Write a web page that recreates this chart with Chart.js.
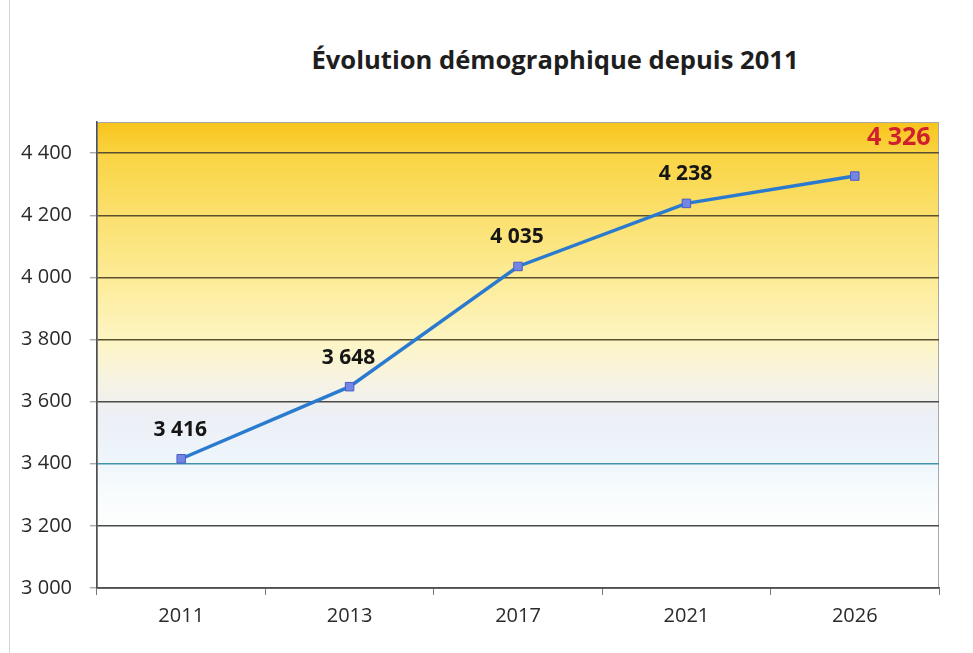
<!DOCTYPE html>
<html lang="fr">
<head>
<meta charset="utf-8">
<title>Évolution démographique depuis 2011</title>
<script src="https://cdn.jsdelivr.net/npm/chart.js@4/dist/chart.umd.min.js"></script>
<style>
  html, body { margin: 0; padding: 0; background: #fff; }
  #wrap { position: relative; width: 973px; height: 653px; overflow: hidden; }
  #edge { position: absolute; left: 9px; top: 0; width: 1px; height: 653px; background: #d4d4d4; }
  #titre {
    position: absolute; left: 255px; width: 600px; top: 42px; text-align: center;
    font-family: "Open Sans", sans-serif; font-weight: bold; font-size: 25.6px; color: #1e1e1e;
  }
  canvas { position: absolute; left: 0; top: 0; }
</style>
</head>
<body>
<div id="wrap">
  <div id="edge"></div>
  <div id="titre">Évolution démographique depuis 2011</div>
  <canvas id="popChart" width="973" height="653"></canvas>
</div>
<script>
// --- Données ---
const annees = ['2011', '2013', '2017', '2021', '2026'];
const population = [3416, 3648, 4035, 4238, 4326];
const yTicks = [3000, 3200, 3400, 3600, 3800, 4000, 4200, 4400];
const Y_MIN = 3000;
const Y_MAX = 4500;

// format "4 400"
function fmt(v) {
    return String(v).replace(/\B(?=(\d{3})+(?!\d))/g, ' ');
}

// fond dégradé de la zone de tracé + cadre
const fondPlugin = {
    id: 'fond',
    beforeDraw(chart) {
        const { ctx, chartArea: a } = chart;
        const g = ctx.createLinearGradient(0, a.top, 0, a.bottom);
        g.addColorStop(0.00, '#f8c41c');
        g.addColorStop(0.07, '#fad443');
        g.addColorStop(0.20, '#fbe06e');
        g.addColorStop(0.34, '#fdec98');
        g.addColorStop(0.47, '#fdf5c4');
        g.addColorStop(0.56, '#f6f3e4');
        g.addColorStop(0.63, '#eceff6');
        g.addColorStop(0.72, '#eef6fb');
        g.addColorStop(0.80, '#f8fcfd');
        g.addColorStop(0.88, '#ffffff');
        g.addColorStop(1.00, '#ffffff');
        ctx.save();
        ctx.fillStyle = g;
        ctx.fillRect(a.left, a.top, a.right - a.left, a.bottom - a.top);
        ctx.strokeStyle = '#a8a8a8';
        ctx.lineWidth = 1;
        ctx.strokeRect(a.left + 0.5, a.top + 0.5, a.right - a.left - 1, a.bottom - a.top);
        ctx.restore();
    }
};

// étiquettes de valeurs
const etiquettesPlugin = {
    id: 'etiquettes',
    afterDatasetsDraw(chart) {
        const { ctx, chartArea: a } = chart;
        const meta = chart.getDatasetMeta(0);
        const last = meta.data.length - 1;
        ctx.save();
        ctx.textAlign = 'center';
        ctx.textBaseline = 'middle';
        meta.data.forEach((pt, i) => {
            const txt = fmt(population[i]);
            if (i === last) {
                // dernière valeur en rouge, dans le coin
                ctx.font = 'bold 25px "Open Sans", sans-serif';
                ctx.fillStyle = '#d0202e';
                ctx.fillText(txt, pt.x + 44, a.top + 16);
            } else {
                ctx.font = 'bold 21px "Open Sans", sans-serif';
                ctx.fillStyle = '#161616';
                ctx.fillText(txt, pt.x - 1, pt.y - 29);
            }
        });
        ctx.restore();
    }
};

const ctx = document.getElementById('popChart').getContext('2d');
const chart = new Chart(ctx, {
    type: 'line',
    data: {
        labels: annees,
        datasets: [{
            label: 'Population',
            data: population,
            borderColor: '#2a7bcf',
            borderWidth: 3.5,
            tension: 0,
            pointStyle: 'rect',
            pointRadius: 6,
            pointBackgroundColor: '#7486e4',
            pointBorderColor: '#4a5cc8',
            pointBorderWidth: 1,
            fill: false
        }]
    },
    options: {
        responsive: false,
        animation: false,
        layout: { padding: { left: 0, right: 34, top: 122, bottom: 16 } },
        plugins: {
            legend: { display: false },
            title: { display: false },
            tooltip: { enabled: false }
        },
        scales: {
            x: {
                offset: true,
                grid: {
                    offset: true,
                    drawOnChartArea: false,
                    drawTicks: true,
                    tickLength: 7,
                    tickColor: '#777'
                },
                border: { color: '#505050', width: 1.5 },
                ticks: {
                    color: '#2a2a2a',
                    padding: 9,
                    font: { family: '"Open Sans", sans-serif', size: 20 }
                }
            },
            y: {
                min: Y_MIN,
                max: Y_MAX,
                afterBuildTicks(scale) {
                    scale.ticks = yTicks.map(v => ({ value: v }));
                },
                afterFit(scale) {
                    scale.width = 97;
                },
                grid: {
                    color(c) {
                        const v = c.tick && c.tick.value;
                        if (v === 3400) return '#3f95ad';
                        if (v >= 3800) return '#5b5130';
                        return '#4a4a4a';
                    },
                    lineWidth: 1.4,
                    tickLength: 7,
                    tickColor: '#aaa'
                },
                border: { color: '#505050', width: 1.5 },
                ticks: {
                    color: '#2a2a2a',
                    padding: 18,
                    font: { family: '"Open Sans", sans-serif', size: 20 },
                    callback: v => fmt(v)
                }
            }
        }
    },
    plugins: [fondPlugin, etiquettesPlugin]
});
</script>
</body>
</html>
